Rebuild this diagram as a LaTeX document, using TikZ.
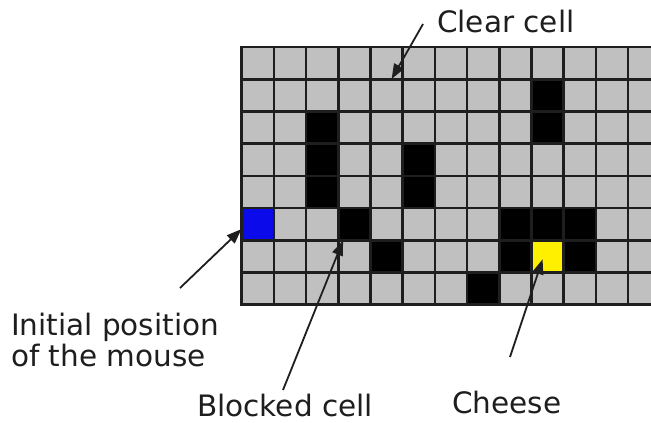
\documentclass[tikz,border=0pt]{standalone}
\usepackage{fontspec}
\setmainfont{DejaVu Sans}
\usepackage{tikz}
\usetikzlibrary{arrows.meta, positioning}
\definecolor{cellgray}{RGB}{192,192,192}
\definecolor{gridline}{RGB}{30,30,30}
\definecolor{mouseblue}{RGB}{10,10,235}
\definecolor{cheeseyellow}{RGB}{255,240,0}
\definecolor{darktext}{RGB}{30,30,30}

\begin{document}
\begin{tikzpicture}[x=1pt, y=-1pt,
    cellbox/.style={minimum size=32.2pt, inner sep=0pt, draw=none},
    caption/.style={font=\fontsize{29.5}{31}\selectfont, text=darktext, inner sep=0pt, anchor=base west, align=left},
    pointer/.style={-{Triangle[length=15pt, width=11pt]}, line width=1.8pt, draw=darktext}]
    \clip (0,0) rectangle (651,423);
    \fill[white] (0,0) rectangle (651,423);

    % the maze
    \fill[cellgray] (241.7,47) rectangle (660.3,304.6);
    \foreach \c/\r in {2/2, 2/3, 2/4, 5/3, 5/4, 9/1, 9/2, 4/6, 8/5, 9/5, 10/5, 8/6, 10/6, 7/7}
        \fill[black] ({241.7+32.2*\c}, {47+32.2*\r}) rectangle +(32.2,32.2);
    \node[cellbox, fill=black] (blocked) at (354.4,224.1) {};
    \node[cellbox, fill=mouseblue] (mouse) at (257.8,224.1) {};
    \node[cellbox, fill=cheeseyellow] (cheese) at (547.6,256.3) {};
    \node[cellbox] (clear) at (386.6,95.3) {};
    \foreach \c in {0,...,13}
        \draw[gridline, line width=2.6pt] ({241.7+32.2*\c}, 47) -- ++(0,257.6);
    \foreach \r in {0,...,8}
        \draw[gridline, line width=2.6pt] (240.4, {47+32.2*\r}) -- (660.3, {47+32.2*\r});

    % labels
    \node[caption] (clearlabel) at (437,32) {Clear cell};
    \node[caption] (mouselabel) at (11,366) {Initial position\\of the mouse};
    \node[caption] (blockedlabel) at (197,416) {Blocked cell};
    \node[caption] (cheeselabel) at (452,413) {Cheese};

    \coordinate (clearfrom) at (423,24);
    \coordinate (mousefrom) at (180,288);
    \coordinate (blockedfrom) at (283,390);
    \coordinate (cheesefrom) at (510,357);
    \draw[pointer] (clearfrom) -- ([xshift=5pt]clear.north);
    \draw[pointer] (mousefrom) -- ([yshift=-5pt]mouse.west);
    \draw[pointer] (blockedfrom) -- ([xshift=5pt]blocked.south west);
    \draw[pointer] (cheesefrom) -- ([xshift=-5pt,yshift=-3pt]cheese.center);
\end{tikzpicture}
\end{document}
